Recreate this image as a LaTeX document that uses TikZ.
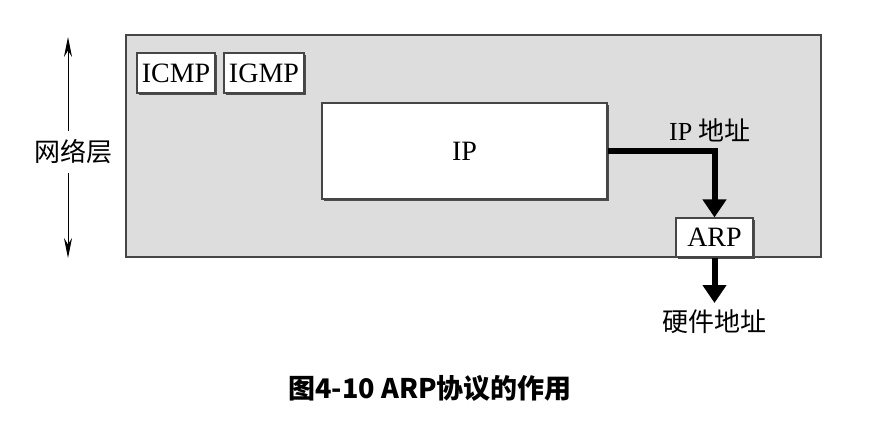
\documentclass[tikz,border=0pt]{standalone}
\usepackage{fontspec}
\setmainfont{Liberation Serif}
\newfontfamily\cjk{Noto Sans CJK SC}
\usetikzlibrary{arrows.meta,shadows}
\definecolor{layergray}{RGB}{221,221,221}
\definecolor{edgegray}{RGB}{70,70,70}
\tikzset{
  protobox/.style={draw=edgegray,fill=white,line width=1.2pt,inner sep=0pt,
    font=\fontsize{28}{30}\selectfont,
    drop shadow={shadow xshift=2pt,shadow yshift=-2pt,fill=black!70,opacity=1}},
  bigarrow/.style={line width=6pt,-{Triangle[width=23pt,length=18pt]}},
  cnlabel/.style={font=\fontsize{26}{28}\selectfont},
}
\begin{document}
\begin{tikzpicture}[x=1pt,y=-1pt]
\useasboundingbox (0,0) rectangle (891,431);
% network layer
\draw[draw=edgegray,fill=layergray,line width=1.2pt] (126,35) rectangle (821,257);
\node[protobox,minimum width=78pt,minimum height=40pt] (icmp) at (176,73) {ICMP};
\node[protobox,minimum width=80pt,minimum height=40pt] (igmp) at (264,73) {IGMP};
\node[protobox,minimum width=285pt,minimum height=96pt] (ip) at (464.5,151) {IP};
\node[protobox,minimum width=77pt,minimum height=39pt] (arp) at (714.5,237.5) {ARP};
\node[cnlabel] (ipaddr) at (710,130) {IP {\cjk 地址}};
\node[cnlabel,inner sep=6pt,anchor=north] (hwaddr) at (714.5,303) {\cjk 硬件地址};
\draw[bigarrow] (ip.east) -| (arp.north);
\draw[bigarrow] (arp.south) -- (hwaddr.north);
% layer extent
\coordinate (top) at (68,37);
\coordinate (bot) at (68,258);
\node[cnlabel,inner sep=9pt] (net) at (73,152) {\cjk 网络层};
\draw[-{Stealth[width=8pt,length=20pt]},line width=1pt] (top |- net.north) -- (top);
\draw[-{Stealth[width=8pt,length=20pt]},line width=1pt] (bot |- net.south) -- (bot);
% caption
\node[font=\cjk\bfseries\fontsize{27}{30}\selectfont] (caption) at (430,388) {图4-10 ARP协议的作用};
\end{tikzpicture}
\end{document}
